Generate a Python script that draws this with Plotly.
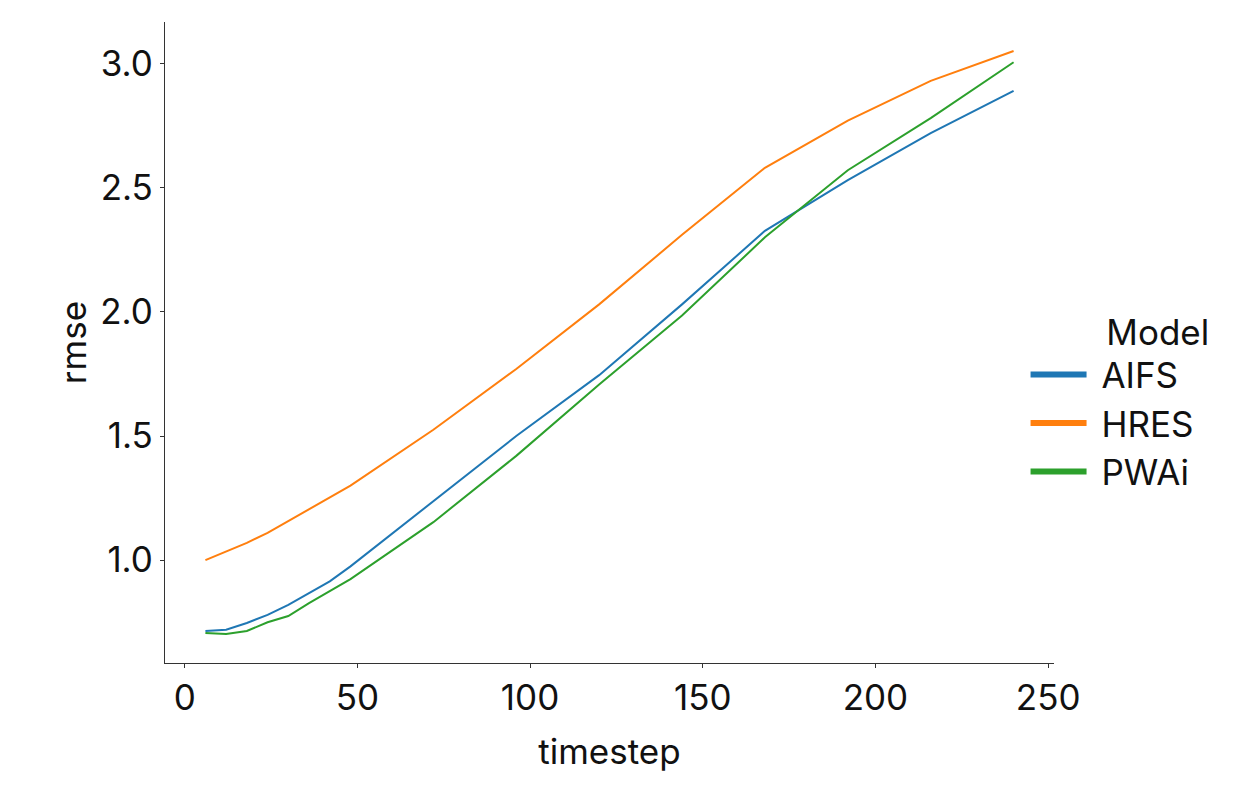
import plotly.graph_objects as go

timesteps = [6, 12, 18, 24, 30, 36, 42, 48, 72, 96, 120, 144, 168, 192, 216, 240]
aifs = [0.715, 0.72, 0.747, 0.78, 0.82, 0.867, 0.915, 0.975, 1.237, 1.50, 1.745, 2.03, 2.326, 2.53, 2.72, 2.89]
hres = [1.00, 1.036, 1.07, 1.11, 1.157, 1.205, 1.25, 1.30, 1.525, 1.77, 2.03, 2.31, 2.58, 2.77, 2.93, 3.05]
pwai = [0.707, 0.703, 0.715, 0.75, 0.775, 0.827, 0.875, 0.924, 1.153, 1.42, 1.707, 1.985, 2.30, 2.57, 2.78, 3.005]

models = ["AIFS", "HRES", "PWAi"]
series = [aifs, hres, pwai]
colors = ["#1f77b4", "#ff7f0e", "#2ca02c"]

FONT = "Inter"
FS = 35
TXT = "#111111"
fig = go.Figure()
for name, vals, c in zip(models, series, colors):
    fig.add_trace(go.Scatter(x=timesteps, y=vals, mode="lines", name=name,
                             line=dict(color=c, width=2), showlegend=False))
for name, c in zip(models, colors):
    fig.add_trace(go.Scatter(x=[None], y=[None], mode="lines", name="&nbsp;" + name,
                             line=dict(color=c, width=6), showlegend=True))

axis_common = dict(showline=True, linecolor="#333333", linewidth=1.2, ticks="outside",
                   ticklen=4, tickwidth=1.2, tickcolor="#333333", showgrid=False,
                   zeroline=False, mirror=False, automargin=False,
                   tickfont=dict(family=FONT, size=FS, color=TXT),
                   title_font=dict(family=FONT, size=FS, color=TXT))

fig.update_xaxes(range=[-5.7, 251.7], tickvals=[0, 50, 100, 150, 200, 250],
                 title_text="timestep", title_standoff=22, **axis_common)
fig.update_yaxes(range=[0.586, 3.167], tickvals=[1.0, 1.5, 2.0, 2.5, 3.0],
                 tickformat=".1f", title_text="rmse", title_standoff=3, **axis_common)

fig.update_layout(
    width=1244, height=800,
    margin=dict(l=157, r=198, t=14, b=145),
    plot_bgcolor="white", paper_bgcolor="white",
    font=dict(family=FONT, color=TXT),
    legend=dict(x=0.968, y=0.41, xanchor="left", yanchor="middle",
                title=dict(text="&nbsp;" * 8 + "Model", side="top",
                           font=dict(family=FONT, size=FS, color=TXT)),
                font=dict(family=FONT, size=FS, color=TXT), itemwidth=56,
                bgcolor="rgba(0,0,0,0)", tracegroupgap=0),
)

fig.write_html("out.html")
